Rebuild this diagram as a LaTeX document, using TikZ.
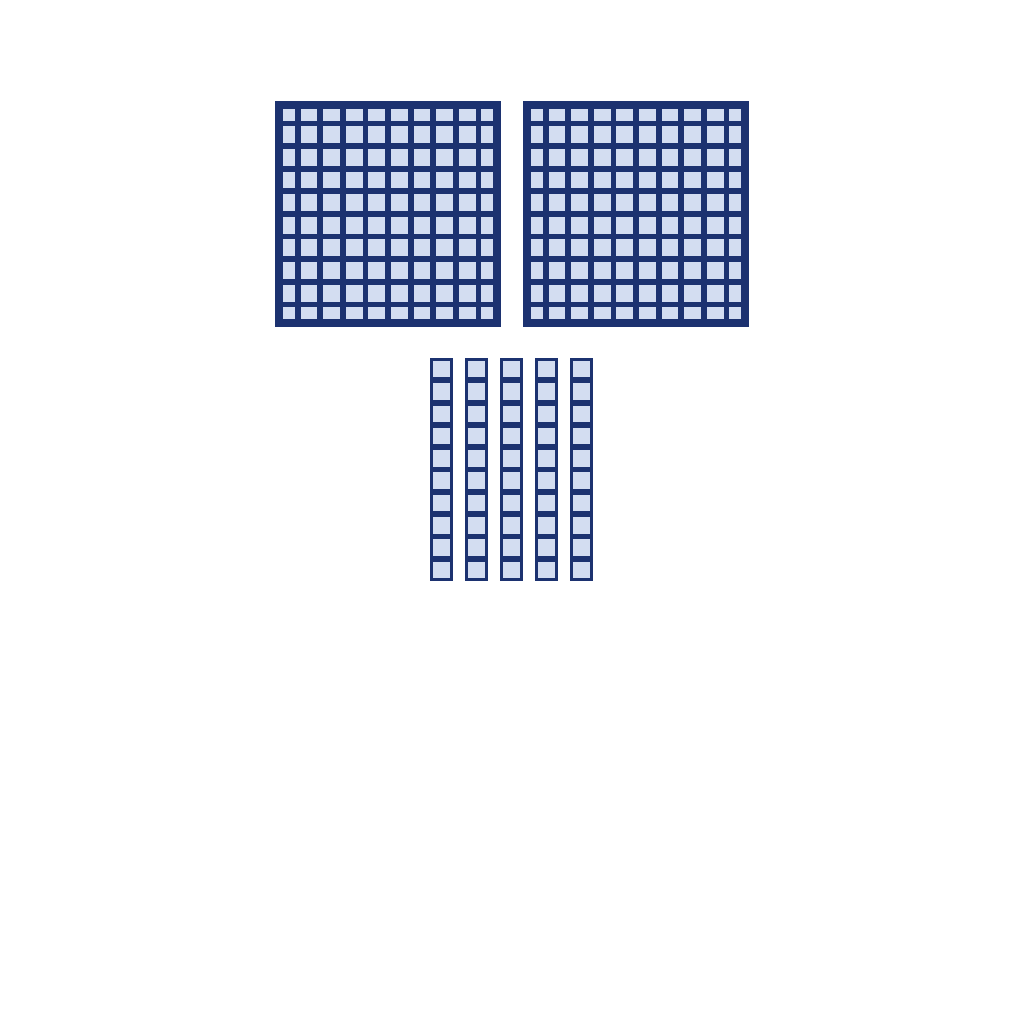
\documentclass[tikz,border=0pt]{standalone}
\usepackage{tikz}
\definecolor{navy}{RGB}{28,50,112}
\definecolor{pale}{RGB}{211,221,241}
\tikzset{
	hundred/.style={fill=navy},
	inner/.style={fill=pale},
	gridline/.style={draw=navy, line width=1.65pt},
	rod/.style={fill=pale, draw=navy, line width=0.85pt}
}
\begin{document}
\begin{tikzpicture}[x=0.1mm, y=-0.1mm]
	\useasboundingbox (0,0) rectangle (1024,1024);
	% hundreds
	\foreach \x in {275, 523} {
		\fill [hundred] (\x,101) rectangle ++(226,226);
		\fill [inner] (\x+8,109) rectangle ++(210,210);
		\foreach \k in {1,...,9} {
			\draw [gridline] (\x+22.6*\k,109) -- ++(0,210);
			\draw [gridline] (\x+8,101+22.6*\k) -- ++(210,0);
		}
	}
	% tens
	\foreach \x in {430, 465, 500, 535, 570} {
		\draw [rod] (\x+1.5,359.5) rectangle ++(20,220);
		\foreach \k in {1,...,9}
			\draw [gridline] (\x+1.5,358+22.3*\k) -- ++(20,0);
	}
\end{tikzpicture}
\end{document}
